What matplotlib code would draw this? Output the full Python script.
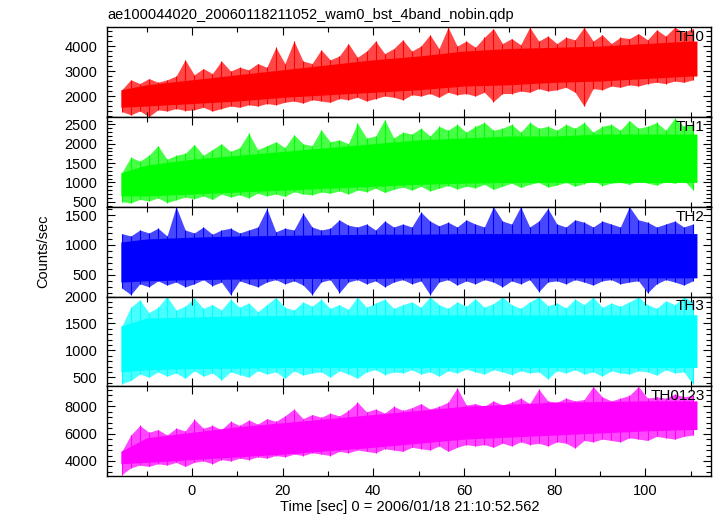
import numpy as np
import matplotlib
matplotlib.use("Agg")
import matplotlib.pyplot as plt
from matplotlib.ticker import MultipleLocator, AutoMinorLocator

plt.rcParams['font.family'] = ['Liberation Sans', 'DejaVu Sans']

title = "ae100044020_20060118211052_wam0_bst_4band_nobin.qdp"
xlabel = "Time [sec] 0 = 2006/01/18 21:10:52.562"
ylabel = "Counts/sec"

bands = ["TH0", "TH1", "TH2", "TH3", "TH0123"]
colors = ["#ff0000", "#00ff00", "#0000ff", "#00ffff", "#ff00ff"]
ylims = [(1160, 4750), (370, 2690), (138, 1638), (333, 2000), (2900, 9470)]
yticks = [[2000, 3000, 4000], [500, 1000, 1500, 2000, 2500], [500, 1000, 1500],
          [500, 1000, 1500, 2000], [4000, 6000, 8000]]

# sample times of the read-off extremes (every 2 s)
t = np.arange(-15.5, 111, 2.0)
# knots of the dense core of each light curve
t_core = [-15.7, -10, 0, 10, 20, 30, 40, 50, 60, 70, 80, 90, 100, 110, 111.4]

th0_hi = [2250, 2650, 2500, 2700, 2550, 2650, 2800, 3450,
          2850, 3100, 2900, 3400, 3000, 3150, 3050, 3300,
          3150, 3950, 3300, 4200, 3400, 3300, 3850, 3450,
          3600, 4100, 3550, 3800, 4200, 3700, 3900, 4250,
          3800, 4000, 4450, 3900, 4750, 4000, 4200, 3950,
          4350, 4700, 4100, 4300, 4050, 4750, 4200, 4400,
          4100, 4350, 4250, 4750, 4200, 4450, 4100, 4350,
          4300, 4500, 4250, 4650, 4400, 4750, 4550, 4700]
th0_lo = [1380, 1250, 1400, 1180, 1450, 1400, 1500, 1420,
          1450, 1550, 1400, 1500, 1600, 1550, 1650, 1600,
          1700, 1650, 1750, 1800, 1720, 1850, 1800, 1750,
          1900, 1850, 1950, 1800, 1900, 2000, 1950, 1850,
          2050, 2000, 2100, 1950, 2150, 2050, 2100, 2000,
          2150, 1780, 2100, 2100, 2200, 2150, 2300, 2200,
          2250, 2350, 2150, 1600, 2300, 2250, 2400, 2350,
          2450, 2400, 2500, 2550, 2500, 2600, 2550, 2650]
th0_core_lo = [1550, 1600, 1700, 1800, 1950, 2050, 2150, 2250, 2400, 2450, 2550, 2600, 2700, 2800, 2800]
th0_core_hi = [2250, 2450, 2650, 2850, 3050, 3250, 3450, 3600, 3800, 3900, 3950, 4000, 4100, 4200, 4200]

th1_hi = [1250, 1650, 1550, 1700, 1950, 1600, 1700, 1750,
          1980, 1700, 1850, 2000, 1800, 1900, 2270, 1850,
          1950, 2050, 1900, 2230, 2000, 1950, 2360, 2050,
          2100, 2000, 2530, 2150, 2200, 2620, 2150, 2300,
          2250, 2400, 2200, 2450, 2350, 2500, 2300, 2450,
          2550, 2350, 2400, 2500, 2300, 2550, 2400, 2450,
          2350, 2500, 2400, 2550, 2300, 2450, 2500, 2350,
          2600, 2400, 2450, 2550, 2350, 2660, 2450, 2500]
th1_lo = [500, 470, 560, 520, 600, 480, 550, 620,
          580, 650, 560, 700, 620, 680, 600, 720,
          650, 700, 640, 760, 700, 680, 750, 720,
          780, 700, 800, 760, 850, 740, 820, 880,
          800, 900, 780, 850, 920, 830, 900, 860,
          950, 820, 900, 980, 870, 950, 1000, 880,
          930, 1000, 900, 970, 1050, 920, 980, 1000,
          950, 1050, 980, 930, 1020, 980, 1050, 810]
th1_core_lo = [650, 650, 700, 750, 800, 850, 900, 950, 980, 1000, 1000, 1000, 1000, 1000, 1000]
th1_core_hi = [1250, 1450, 1600, 1700, 1800, 1900, 2000, 2100, 2150, 2200, 2200, 2250, 2250, 2250, 2250]

th2_hi = [1190, 1150, 1250, 1200, 1280, 1150, 1640, 1250,
          1200, 1300, 1180, 1250, 1280, 1200, 1250, 1300,
          1610, 1220, 1280, 1250, 1530, 1300, 1250, 1280,
          1420, 1330, 1300, 1350, 1250, 1400, 1300, 1350,
          1300, 1550, 1400, 1320, 1380, 1300, 1420, 1350,
          1300, 1640, 1400, 1350, 1640, 1300, 1400, 1610,
          1350, 1300, 1420, 1380, 1300, 1400, 1350, 1300,
          1640, 1420, 1380, 1300, 1350, 1400, 1300, 1350]
th2_lo = [280, 170, 350, 300, 400, 330, 380, 300,
          350, 420, 320, 380, 170, 400, 350, 300,
          380, 420, 350, 400, 330, 170, 380, 420,
          200, 380, 420, 350, 400, 300, 380, 420,
          350, 400, 170, 380, 420, 330, 400, 350,
          420, 380, 300, 400, 350, 420, 220, 380,
          400, 350, 420, 380, 330, 400, 420, 350,
          380, 400, 200, 350, 420, 380, 330, 400]
th2_core_lo = [380, 400, 420, 430, 440, 440, 440, 450, 450, 450, 450, 450, 450, 450, 450]
th2_core_hi = [1050, 1100, 1130, 1150, 1160, 1170, 1180, 1180, 1190, 1190, 1190, 1190, 1190, 1190, 1190]

th3_hi = [1450, 1800, 1940, 1700, 1800, 2000, 1750, 1820,
          1970, 1780, 1850, 1750, 1950, 1800, 1880, 1720,
          1850, 1980, 1800, 1750, 1900, 1820, 1950, 1780,
          1850, 1760, 1990, 1800, 1880, 1950, 1780, 1850,
          1900, 1800, 1990, 1850, 1780, 1900, 1820, 1960,
          1800, 1870, 1990, 1850, 1780, 1900, 1990, 1830,
          1880, 1790, 1950, 1850, 1990, 1800, 1880, 1820,
          1900, 1990, 1850, 1780, 1920, 1850, 1990, 1900]
th3_lo = [380, 440, 560, 500, 600, 520, 580, 480,
          620, 520, 580, 450, 600, 550, 500, 620,
          560, 600, 480, 620, 540, 580, 600, 500,
          620, 560, 480, 600, 640, 550, 600, 580,
          640, 560, 600, 520, 620, 580, 650, 600,
          560, 640, 600, 550, 620, 580, 600, 470,
          620, 580, 640, 560, 600, 520, 620, 580,
          560, 620, 600, 540, 640, 580, 600, 375]
th3_core_lo = [600, 640, 660, 670, 680, 680, 680, 680, 680, 680, 680, 680, 680, 680, 680]
th3_core_hi = [1450, 1600, 1620, 1640, 1650, 1660, 1660, 1660, 1660, 1660, 1660, 1660, 1660, 1660, 1660]

th0123_hi = [4700, 5900, 6600, 6100, 6300, 5900, 6400, 6200,
             7050, 6400, 6600, 6300, 6900, 6600, 7000, 6700,
             7100, 6900, 7300, 7800, 7100, 7400, 7200, 7500,
             7300, 7700, 8300, 7600, 7800, 7500, 8000, 7700,
             7900, 8200, 7800, 8000, 8300, 9350, 8100, 8200,
             8000, 8400, 8100, 8300, 8600, 8200, 9250, 8400,
             8300, 8600, 8400, 8500, 9450, 8700, 8400, 8600,
             8800, 9450, 8600, 8700, 8600, 8900, 8700, 8800]
th0123_lo = [3000, 3500, 3700, 3600, 3800, 3700, 3900, 3600,
             3900, 4000, 3800, 4100, 4000, 4200, 4100, 4300,
             4200, 4400, 4300, 4500, 4400, 4600, 4500, 4400,
             4700, 4600, 4800, 4700, 4600, 4900, 4800, 4700,
             5000, 4900, 4800, 5100, 4700, 5000, 5200, 5100,
             5200, 5000, 5300, 5100, 5400, 5200, 5300, 5100,
             5400, 5300, 4950, 5500, 5400, 5600, 5500, 5400,
             5700, 5600, 5500, 5800, 5700, 5600, 5800, 5900]
th0123_core_lo = [3800, 3900, 4100, 4300, 4500, 4750, 5000, 5300, 5600, 5750, 5900, 6050, 6200, 6300, 6300]
th0123_core_hi = [4700, 5700, 6100, 6500, 6800, 7100, 7400, 7700, 8000, 8150, 8300, 8350, 8400, 8400, 8400]

his = [th0_hi, th1_hi, th2_hi, th3_hi, th0123_hi]
los = [th0_lo, th1_lo, th2_lo, th3_lo, th0123_lo]
core_los = [th0_core_lo, th1_core_lo, th2_core_lo, th3_core_lo, th0123_core_lo]
core_his = [th0_core_hi, th1_core_hi, th2_core_hi, th3_core_hi, th0123_core_hi]

fig = plt.figure(figsize=(7.17, 5.16), dpi=100)

left, right = 107 / 717, 711 / 717
top, bottom = 1 - 27.3 / 516, 1 - 476 / 516
h = (top - bottom) / len(bands)

axes = []
for i, name in enumerate(bands):
    ax = fig.add_axes([left, top - (i + 1) * h, right - left, h])
    c = colors[i]
    # pale outer envelope with needle-like spikes, solid dense core on top
    ax.fill_between(t, los[i], his[i], color=c, alpha=0.72, lw=0)
    ax.vlines(t, los[i], his[i], colors=c, lw=0.8)
    ax.fill_between(t_core, core_los[i], core_his[i], color=c, lw=0)

    ax.set_xlim(-18.75, 114.5)
    ax.set_ylim(*ylims[i])
    ax.set_yticks(yticks[i])
    ax.xaxis.set_major_locator(MultipleLocator(20))
    ax.xaxis.set_minor_locator(MultipleLocator(10))
    ax.yaxis.set_minor_locator(AutoMinorLocator(5))
    ax.tick_params(which='both', direction='in', top=True, right=True,
                   labelsize=10.5, pad=7, width=0.8)
    ax.tick_params(which='major', length=6)
    ax.tick_params(which='minor', length=3.5)
    for sp in ax.spines.values():
        sp.set_linewidth(1.0)
    if i < len(bands) - 1:
        ax.tick_params(labelbottom=False)
    ax.text(0.99, 0.89, name, transform=ax.transAxes, ha='right', va='center',
            fontsize=11)
    axes.append(ax)

axes[-1].tick_params(axis='x', pad=6)
fig.text(left, 1 - 15.5 / 516, title, ha='left', va='center', fontsize=10.5)
fig.text(410 / 717, 1 - 506.5 / 516, xlabel, ha='center', va='center', fontsize=10.5)
fig.text(43 / 717, (top + bottom) / 2, ylabel, ha='center', va='center',
         rotation=90, fontsize=10.5)

plt.savefig("out.png", dpi=100)
